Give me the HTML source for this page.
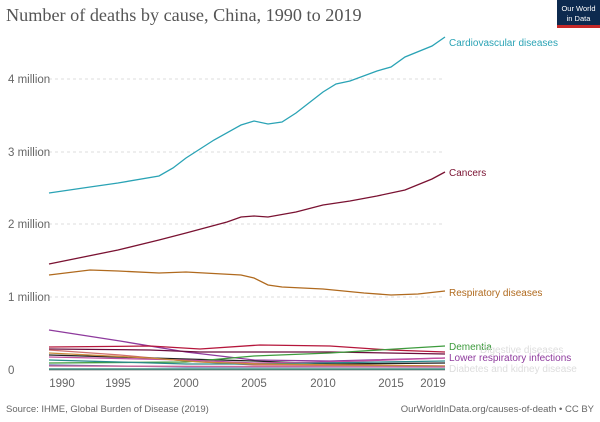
<!DOCTYPE html>
<html><head><meta charset="utf-8"><style>
body{margin:0;background:#fff;width:600px;height:417px;overflow:hidden;font-family:"Liberation Sans",sans-serif}
</style></head><body>
<svg width="600" height="417" xmlns="http://www.w3.org/2000/svg" font-family="Liberation Sans, sans-serif">
<text x="6" y="21" font-family="Liberation Serif, serif" font-size="18.2" fill="#555">Number of deaths by cause, China, 1990 to 2019</text>
<rect x="557" y="0" width="43" height="27" fill="#0d2a4f"/><rect x="557" y="25" width="43" height="3" fill="#c62828"/>
<text x="578.5" y="11" font-size="7.5" fill="#fff" text-anchor="middle">Our World</text>
<text x="578.5" y="21" font-size="7.5" fill="#fff" text-anchor="middle">in Data</text>
<g stroke="#ddd" stroke-dasharray="3,3">
<line x1="49" x2="445" y1="79" y2="79"/><line x1="49" x2="445" y1="152" y2="152"/><line x1="49" x2="445" y1="224" y2="224"/><line x1="49" x2="445" y1="297" y2="297"/>
</g>
<line x1="49" x2="445" y1="370" y2="370" stroke="#999"/>
<g font-size="11.5" fill="#666">
<text x="8" y="83">4 million</text><text x="8" y="156">3 million</text><text x="8" y="228">2 million</text><text x="8" y="301">1 million</text><text x="8" y="374">0</text>
<g text-anchor="middle"><text x="62" y="387">1990</text><text x="118" y="387">1995</text><text x="186" y="387">2000</text><text x="254" y="387">2005</text><text x="323" y="387">2010</text><text x="391" y="387">2015</text><text x="433" y="387">2019</text></g>
</g>
<g fill="none" stroke-width="1.3">
<polyline stroke="#8e3a9d" points="49,330 120,341 186,352 254,360 330,361 445,358"/>
<polyline stroke="#b5163b" points="49,347 150,346 200,349 260,345 330,346 390,350 445,352"/>
<polyline stroke="#6b0e3e" points="49,349 150,350 200,352 260,352 330,352 445,354"/>
<polyline stroke="#d06e6e" points="49,350 120,355 186,361 254,365 445,366"/>
<polyline stroke="#222" points="49,355 186,359 254,361 330,364 445,363"/>
<polyline stroke="#3d9b3d" points="49,363 186,362 254,356 330,353 445,346"/>
<polyline stroke="#c24fa0" points="49,357 186,360 254,363 330,362 445,358"/>
<polyline stroke="#2a8a8a" points="49,360 186,364 254,364 445,361"/>
<polyline stroke="#c98a3a" points="49,353 150,358 200,362 260,364 445,366"/>
<polyline stroke="#5566aa" points="49,365 186,367 445,367"/>
<polyline stroke="#cc6699" points="49,366 445,367"/>
<polyline stroke="#1b7a6a" points="49,369 445,369"/>
<polyline stroke="#b06a1e" points="49,275 90,270 118,271 159,273 186,272 241,275 254,278 268,285 282,287 323,289 364,293 391,295 418,294 445,291"/>
<polyline stroke="#7a1232" points="49,264 118,250 159,240 186,233 227,222 241,217 254,216 268,217 296,212 323,205 350,201 377,196 405,190 432,179 445,172"/>
<polyline stroke="#2aa3b5" points="49,193 90,187 118,183 159,176 173,168 186,158 214,140 241,125 254,121 268,124 282,122 296,113 323,92 336,84 350,81 377,71 391,67 405,57 432,46 445,37"/>
</g>
<g font-size="10">
<text x="449" y="46" fill="#2aa3b5">Cardiovascular diseases</text>
<text x="449" y="176" fill="#7a1232">Cancers</text>
<text x="449" y="296" fill="#b06a1e">Respiratory diseases</text>
<text x="449" y="350" fill="#3d9b3d">Dementia</text>
<text x="449" y="361" fill="#8e3a9d">Lower respiratory infections</text>
<text x="480" y="353" fill="#ddd">Digestive diseases</text>
<text x="449" y="372" fill="#ddd">Diabetes and kidney disease</text>
</g>
<text x="6" y="412" font-size="9.5" fill="#666">Source: IHME, Global Burden of Disease (2019)</text>
<text x="594" y="412" font-size="9.5" fill="#666" text-anchor="end">OurWorldInData.org/causes-of-death • CC BY</text>
</svg>
</body></html>
